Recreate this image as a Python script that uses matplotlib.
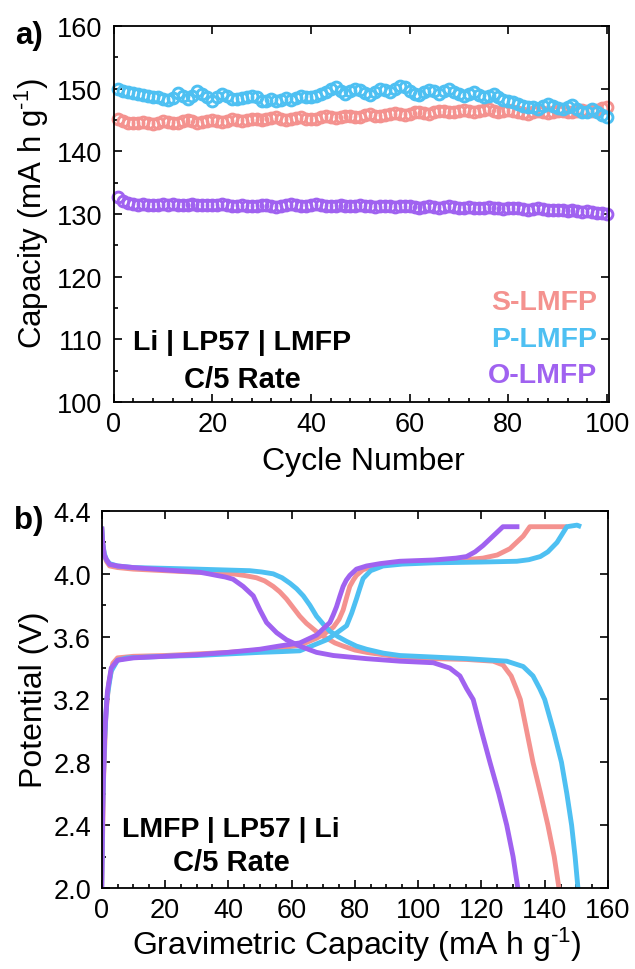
import matplotlib
matplotlib.use("Agg")
import matplotlib.pyplot as plt
from matplotlib.ticker import MultipleLocator, FormatStrFormatter

plt.rcParams['font.family'] = ['Liberation Sans', 'DejaVu Sans']
plt.rcParams['mathtext.fontset'] = 'custom'
plt.rcParams['mathtext.rm'] = 'Liberation Sans'
plt.rcParams['mathtext.it'] = 'Liberation Sans:italic'
plt.rcParams['mathtext.bf'] = 'Liberation Sans:bold'
plt.rcParams['mathtext.default'] = 'regular'

# ---------------- data: panel a (cycling) ----------------
cycles = list(range(1, 101))
s_lmfp_cap = [145.2, 144.8, 144.6, 144.5, 144.6, 144.7, 144.5, 144.4, 144.6, 144.8,
              144.7, 144.5, 144.6, 144.9, 145.0, 144.8, 144.6, 144.7, 144.9, 145.0,
              144.8, 144.7, 144.9, 145.1, 145.0, 144.9, 145.0, 145.2, 145.1, 145.0,
              145.1, 145.3, 145.5, 145.2, 145.0, 145.1, 145.3, 145.4, 145.2, 145.1,
              145.2, 145.5, 145.6, 145.4, 145.3, 145.5, 145.7, 145.6, 145.4, 145.5,
              145.8, 145.9, 145.7, 145.6, 145.8, 146.0, 146.1, 145.9, 145.8, 146.0,
              146.2, 146.3, 146.1, 146.0, 146.2, 146.4, 146.5, 146.3, 146.2, 146.4,
              146.6, 146.5, 146.3, 146.4, 146.6, 146.7, 146.5, 146.3, 146.4, 146.6,
              146.5, 146.3, 146.1, 146.0, 146.2, 146.4, 146.3, 146.1, 146.2, 146.4,
              146.5, 146.3, 146.2, 146.4, 146.6, 146.5, 146.4, 146.6, 146.9, 147.1]
p_lmfp_cap = [150.0, 149.7, 149.5, 149.3, 149.2, 149.0, 148.9, 148.7, 148.6, 148.4,
              148.2, 148.5, 149.3, 148.8, 148.3, 148.9, 149.6, 149.2, 148.6, 148.0,
              148.6, 149.1, 148.8, 148.4, 148.3, 148.5, 148.6, 148.9, 148.6, 148.1,
              148.0, 148.3, 148.0, 148.2, 148.5, 148.2, 148.5, 148.9, 148.7, 148.6,
              148.9, 149.1, 149.5, 149.9, 150.2, 149.6, 149.2, 149.6, 150.0, 149.8,
              149.3, 149.0, 149.5, 150.0, 149.8, 149.4, 149.9, 150.4, 150.2, 149.6,
              149.2, 149.0, 149.4, 149.8, 149.6, 149.2, 149.6, 149.9, 149.5, 149.1,
              148.9, 149.2, 149.4, 149.0, 148.7, 148.9, 149.1, 148.7, 148.2, 148.0,
              147.9, 147.6, 147.3, 147.1, 147.0, 146.8, 147.2, 147.6, 147.3, 146.9,
              146.7, 147.0, 147.4, 146.8, 146.2, 146.3, 146.7, 146.3, 145.8, 145.4]
o_lmfp_cap = [132.7, 132.1, 131.8, 131.6, 131.5, 131.6, 131.5, 131.4, 131.5, 131.6,
              131.5, 131.6, 131.5, 131.4, 131.5, 131.6, 131.5, 131.4, 131.5, 131.4,
              131.5, 131.6, 131.4, 131.2, 131.3, 131.4, 131.3, 131.2, 131.3, 131.5,
              131.4, 131.2, 131.1, 131.3, 131.5, 131.6, 131.4, 131.2, 131.3, 131.5,
              131.6, 131.4, 131.3, 131.2, 131.3, 131.4, 131.3, 131.2, 131.3, 131.4,
              131.3, 131.2, 131.1, 131.2, 131.3, 131.2, 131.1, 131.2, 131.3, 131.2,
              131.1, 131.0, 131.1, 131.2, 131.1, 131.0, 131.1, 131.2, 131.1, 131.0,
              131.0, 131.1, 131.0, 130.9, 131.0, 131.1, 131.0, 130.9, 130.8, 130.9,
              131.0, 130.9, 130.8, 130.7, 130.8, 130.9, 130.8, 130.7, 130.6, 130.7,
              130.6, 130.5, 130.6, 130.4, 130.3, 130.4, 130.3, 130.2, 130.1, 130.0]

# ---------------- data: panel b (voltage profiles) ----------------
s_chg_cap = [0, 0.6, 1.3, 2.2, 3.5, 5, 10, 20, 30, 40, 50, 57, 62.6, 67.9, 70.5, 73.2, 75,
             76.3, 77.4, 78.4, 79.5, 80.5, 82.5, 85.8, 90, 95, 104.8, 115, 120.5, 125, 129,
             133.2, 135.3, 147]
s_chg_v = [2.0, 2.7, 3.1, 3.3, 3.43, 3.465, 3.475, 3.48, 3.49, 3.50, 3.515, 3.53, 3.545, 3.59,
           3.62, 3.66, 3.71, 3.77, 3.85, 3.92, 3.96, 3.99, 4.025, 4.05, 4.065, 4.075, 4.08,
           4.09, 4.10, 4.12, 4.16, 4.24, 4.30, 4.30]
s_dis_cap = [0, 0.3, 0.8, 1.5, 2.5, 5, 10, 25, 41.5, 45, 48.9, 51.5, 54.2, 56.3, 58.4, 60.5,
             62.6, 64.7, 66.8, 68.9, 71.1, 73.7, 76.3, 80, 83.7, 94.2, 105, 115.3, 123.7,
             126.8, 129.4, 131, 132.3, 134.3, 136.3, 138.7, 141, 143, 144.5]
s_dis_v = [4.30, 4.2, 4.12, 4.08, 4.05, 4.04, 4.03, 4.015, 4.00, 3.99, 3.975, 3.955, 3.92,
           3.885, 3.84, 3.785, 3.73, 3.685, 3.65, 3.615, 3.59, 3.56, 3.54, 3.515, 3.50, 3.47,
           3.46, 3.455, 3.444, 3.42, 3.35, 3.27, 3.2, 3.0, 2.8, 2.6, 2.4, 2.2, 2.0]

p_chg_cap = [0, 0.3, 0.8, 1.6, 3, 5, 8, 20, 30, 40, 50, 57, 62.6, 71.1, 74, 77.4, 79,
             80.5, 81.6, 82.6, 85, 88.9, 95, 104.8, 120, 131.2, 135, 138.6, 141, 143.9,
             147, 150.2, 151.5]
p_chg_v = [2.0, 2.5, 2.9, 3.2, 3.38, 3.45, 3.465, 3.475, 3.48, 3.49, 3.50, 3.505, 3.51, 3.58,
           3.62, 3.67, 3.75, 3.84, 3.91, 3.97, 4.02, 4.05, 4.062, 4.07, 4.075, 4.08, 4.09,
           4.11, 4.14, 4.20, 4.30, 4.31, 4.30]
p_dis_cap = [0, 0.3, 0.8, 1.5, 2.5, 5, 10, 30, 46.8, 50.5, 54.2, 57, 59.5, 61.6, 63.7, 65.8,
             67.9, 70, 72.1, 74.7, 77.4, 80.5, 83.7, 89, 94.2, 105, 115.3, 128, 133.2, 136.3,
             138.4, 140, 142.8, 145.3, 147, 148.5, 149.6, 150.5]
p_dis_v = [4.30, 4.2, 4.13, 4.09, 4.065, 4.05, 4.04, 4.03, 4.02, 4.012, 4.00, 3.975, 3.94,
           3.905, 3.86, 3.80, 3.73, 3.68, 3.635, 3.60, 3.57, 3.54, 3.52, 3.495, 3.48, 3.47,
           3.46, 3.444, 3.41, 3.35, 3.27, 3.2, 3.0, 2.8, 2.6, 2.4, 2.2, 2.0]

o_chg_cap = [0, 0.4, 1, 1.8, 3, 5, 10, 20, 30, 40, 50, 56, 62.6, 67.9, 70, 72.1, 73.2, 74.2,
             75.3, 76.3, 77.3, 78.4, 80.5, 83.7, 88, 94.2, 104.8, 112, 115.3, 118, 120.5,
             124.7, 126.8, 132]
o_chg_v = [2.0, 2.6, 3.0, 3.25, 3.4, 3.45, 3.465, 3.475, 3.485, 3.50, 3.52, 3.54, 3.56, 3.61,
           3.65, 3.69, 3.74, 3.79, 3.86, 3.92, 3.96, 3.99, 4.03, 4.05, 4.065, 4.08, 4.088,
           4.10, 4.11, 4.14, 4.18, 4.26, 4.30, 4.30]
o_dis_cap = [0, 0.3, 0.8, 1.5, 2.5, 5, 10, 20, 31, 33.8, 36.3, 39, 41.5, 44.7, 47.9, 50, 52.1,
             55.3, 58.4, 62.6, 67.9, 73.2, 83.7, 94.2, 104.8, 110, 113.2, 115.3, 117.4, 120,
             122.7, 125.5, 128, 130, 131.5]
o_dis_v = [4.30, 4.2, 4.12, 4.09, 4.06, 4.05, 4.04, 4.025, 4.01, 4.0, 3.99, 3.98, 3.966,
           3.92, 3.86, 3.77, 3.69, 3.625, 3.58, 3.54, 3.50, 3.48, 3.46, 3.444, 3.434, 3.40,
           3.35, 3.27, 3.20, 3.0, 2.8, 2.6, 2.4, 2.2, 2.0]

labels = ['S-LMFP', 'P-LMFP', 'O-LMFP']
colors = ['#F4928F', '#4EC0F2', '#A062F0']

W, H = 635, 970
fig = plt.figure(figsize=(W / 100, H / 100), dpi=100)

def px(x, y):
    return x / W, 1 - y / H

def style_axes(ax, tick_fs, pad_x, pad_y):
    for s in ax.spines.values():
        s.set_linewidth(1.3)
    ax.tick_params(which='both', direction='in', width=1.2, labelsize=tick_fs)
    ax.tick_params(which='major', length=6)
    ax.tick_params(which='minor', length=3)
    ax.tick_params(axis='x', which='major', pad=pad_x)
    ax.tick_params(axis='y', which='major', pad=pad_y)
    ax.tick_params(which='major', top=True, right=True)
    ax.tick_params(which='minor', top=False, right=False)

# ---------------- panel a ----------------
axa = fig.add_axes([113.5 / W, 1 - 403 / H, (609 - 113.5) / W, (403 - 27) / H])
for vals, c in zip([s_lmfp_cap, p_lmfp_cap, o_lmfp_cap], colors):
    axa.plot(cycles, vals, 'o', ms=7.8, mfc='none', mec=c, mew=2.1, clip_on=False)
axa.set_xlim(0, 100.4)
axa.set_ylim(100, 160)
axa.xaxis.set_major_locator(MultipleLocator(20))
axa.xaxis.set_minor_locator(MultipleLocator(4))
axa.yaxis.set_major_locator(MultipleLocator(10))
axa.yaxis.set_minor_locator(MultipleLocator(5))
style_axes(axa, 19.5, 6.5, 8)

ylab = 'Capacity (mA h g$^{\\text{-1}}$)'
xlab_b = 'Gravimetric Capacity (mA h g$^{\\text{-1}}$)'
fig.text(*px(32, 214), ylab, rotation=90, ha='center', va='center', fontsize=22.5)
fig.text(*px(363, 462), 'Cycle Number', ha='center', va='center', fontsize=23)
fig.text(*px(29, 36), 'a)', ha='center', va='center', fontsize=22.5, fontweight='bold')
fig.text(*px(242.5, 343), 'Li | LP57 | LMFP', ha='center', va='center', fontsize=20.5, fontweight='bold')
fig.text(*px(242.5, 380), 'C/5 Rate', ha='center', va='center', fontsize=21, fontweight='bold')
for lab, c, yy in zip(labels, colors, [303, 340, 376]):
    fig.text(*px(597, yy), lab, ha='right', va='center', fontsize=20.5, fontweight='bold', color=c)

# ---------------- panel b ----------------
axb = fig.add_axes([101.7 / W, 1 - 889 / H, (608 - 101.7) / W, (889 - 512) / H])
curves = [(s_chg_cap, s_chg_v, s_dis_cap, s_dis_v),
          (p_chg_cap, p_chg_v, p_dis_cap, p_dis_v),
          (o_chg_cap, o_chg_v, o_dis_cap, o_dis_v)]
for (cc, cv, dc, dv), c in zip(curves, colors):
    axb.plot(cc, cv, '-', color=c, lw=3.5, solid_joinstyle='round', solid_capstyle='butt')
    axb.plot(dc, dv, '-', color=c, lw=3.5, solid_joinstyle='round', solid_capstyle='butt')
axb.set_xlim(0, 160)
axb.set_ylim(2.0, 4.4)
axb.xaxis.set_major_locator(MultipleLocator(20))
axb.xaxis.set_minor_locator(MultipleLocator(5))
axb.yaxis.set_major_locator(MultipleLocator(0.4))
axb.yaxis.set_minor_locator(MultipleLocator(0.2))
axb.yaxis.set_major_formatter(FormatStrFormatter('%.1f'))
style_axes(axb, 19.5, 6.5, 7.5)

fig.text(*px(34, 700), 'Potential (V)', rotation=90, ha='center', va='center', fontsize=23)
fig.text(*px(357, 945), xlab_b, ha='center', va='center', fontsize=23)
fig.text(*px(29, 521), 'b)', ha='center', va='center', fontsize=22.5, fontweight='bold')
fig.text(*px(231, 830), 'LMFP | LP57 | Li', ha='center', va='center', fontsize=20.5, fontweight='bold')
fig.text(*px(231, 863), 'C/5 Rate', ha='center', va='center', fontsize=21, fontweight='bold')

fig.savefig('out.png', dpi=100)
